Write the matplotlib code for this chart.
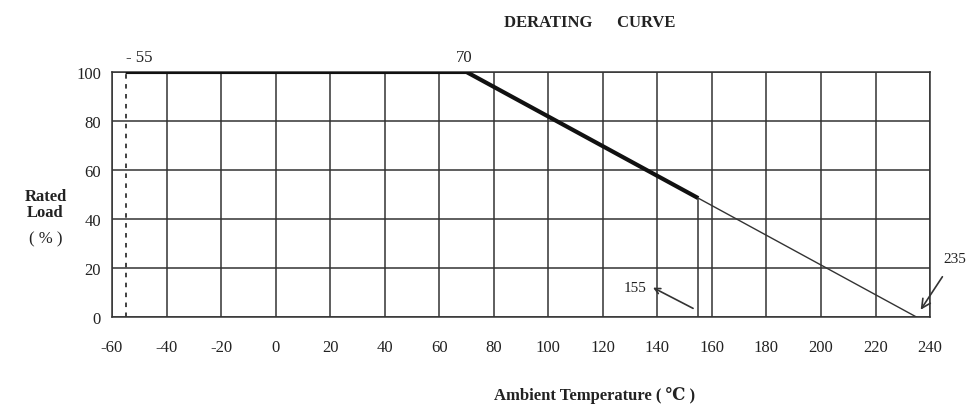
import matplotlib.pyplot as plt

plt.rcParams['font.family'] = ['Liberation Serif', 'DejaVu Serif']
plt.rcParams['axes.unicode_minus'] = False

# 读图得到的数据
x_ticks = [-60, -40, -20, 0, 20, 40, 60, 80, 100, 120, 140, 160, 180, 200, 220, 240]
y_ticks = [0, 20, 40, 60, 80, 100]
thick_temp = [-55, 70, 155]
thick_load = [100, 100, 48.5]
thin_temp = [155, 235]
thin_load = [48.5, 0]
min_temp = -55
cut_temp = 155
cut_load = 48.5
end_temp = 235

fig = plt.figure(figsize=(9.67, 4.1), dpi=100)
ax = fig.add_axes([0.1158, 0.2244, 0.846, 0.5976])

ax.set_xlim(-60, 240)
ax.set_ylim(0, 100)
ax.set_xticks(x_ticks)
ax.set_yticks(y_ticks)
ax.tick_params(length=0, labelsize=12, colors='#222222')
ax.tick_params(axis='x', pad=16)
ax.tick_params(axis='y', pad=8)
ax.grid(True, color='#333333', linewidth=1.1)
for s in ax.spines.values():
    s.set_color('#333333')
    s.set_linewidth(1.1)

# 曲线
ax.plot(thick_temp, thick_load, color='#111111', linewidth=3, solid_capstyle='butt', zorder=3)
ax.plot(thin_temp, thin_load, color='#333333', linewidth=1, zorder=3)
ax.vlines(cut_temp, 0, cut_load, color='#333333', linewidth=1.1, zorder=3)
ax.vlines(min_temp, 0, 100, color='#333333', linewidth=1.3, linestyles=(0, (2.5, 3)), zorder=3)

# 标注
ax.text(min_temp, 103, '- 55', fontsize=12, color='#222222', ha='left', va='bottom')
ax.text(69, 103, '70', fontsize=12, color='#222222', ha='center', va='bottom')
ax.text(132, 12, '155', fontsize=11, color='#222222', ha='center', va='center')
ax.annotate('', xy=(137.5, 12.5), xytext=(154, 3),
            arrowprops=dict(arrowstyle='->', color='#333333', lw=1.2))
ax.annotate('235', xy=(236, 2), xytext=(249, 24), fontsize=11, color='#222222',
            ha='center', va='center', annotation_clip=False,
            arrowprops=dict(arrowstyle='->', color='#333333', lw=1.2,
                            shrinkA=8, mutation_scale=16))

fig.text(0.61, 0.945, 'DERATING      CURVE', fontsize=12, fontweight='bold',
         color='#222222', ha='center', va='center')
fig.text(0.047, 0.5, 'Rated\nLoad', fontsize=12, fontweight='bold', color='#222222',
         ha='center', va='center', linespacing=1.0)
fig.text(0.047, 0.415, '( % )', fontsize=12, color='#222222', ha='center', va='center')
fig.text(0.615, 0.035, 'Ambient Temperature ( \u2103 )', fontsize=12, fontweight='bold',
         color='#222222', ha='center', va='center')

fig.savefig('out.png', dpi=100)
